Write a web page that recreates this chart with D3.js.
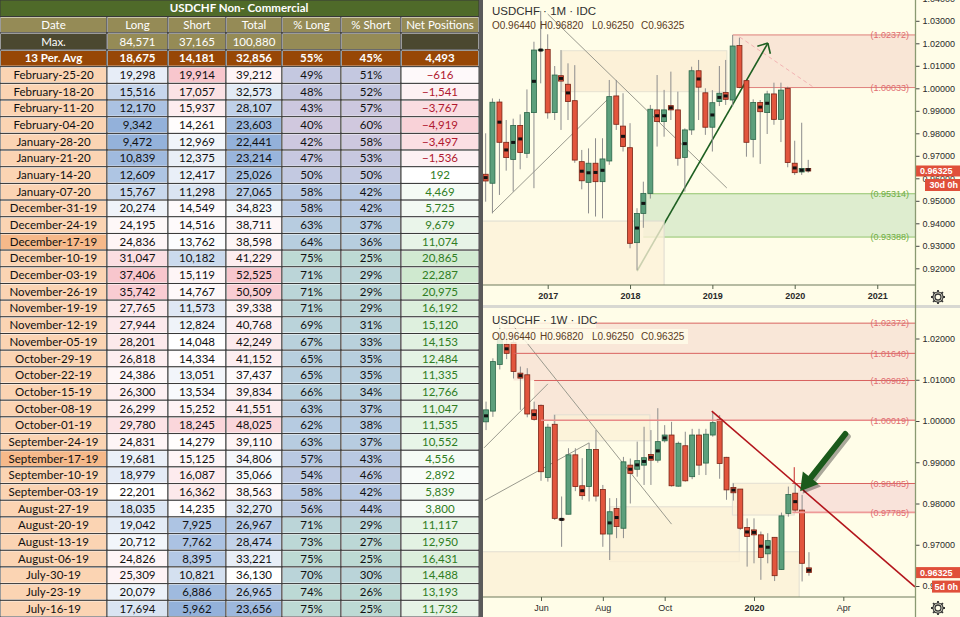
<!DOCTYPE html>
<html><head><meta charset="utf-8">
<script src="https://cdn.jsdelivr.net/npm/d3@7"></script>
<style>
html,body{margin:0;padding:0;background:#fff;}
svg{display:block;}
</style></head>
<body>
<svg id="c" width="960" height="617"></svg>
<script>
// ================= TABLE DATA =================
const tableTitle = "USDCHF Non- Commercial";
const columns = ["Date","Long","Short","Total","% Long","% Short","Net Positions"];
const maxLabel = "Max.";
const maxValues = [84571, 37165, 100880];
const avgLabel = "13 Per. Avg";
const avgValues = [18675, 14181, 32856, 55, 45, 4493];
const dates = ["February-25-20","February-18-20","February-11-20","February-04-20","January-28-20","January-21-20","January-14-20","January-07-20","December-31-19","December-24-19","December-17-19","December-10-19","December-03-19","November-26-19","November-19-19","November-12-19","November-05-19","October-29-19","October-22-19","October-15-19","October-08-19","October-01-19","September-24-19","September-17-19","September-10-19","September-03-19","August-27-19","August-20-19","August-13-19","August-06-19","July-30-19","July-23-19","July-16-19"];
const longs  = [19298,15516,12170,9342,9472,10839,12609,15767,20274,24195,24836,31047,37406,35742,27765,27944,28201,26818,24386,26300,26299,29780,24831,19681,18979,22201,18035,19042,20712,24826,25309,20079,17694];
const shorts = [19914,17057,15937,14261,12969,12375,12417,11298,14549,14516,13762,10182,15119,14767,11573,12824,14048,14334,13051,13534,15252,18245,14279,15125,16087,16362,14235,7925,7762,8395,10821,6886,5962];
const totals = [39212,32573,28107,23603,22441,23214,25026,27065,34823,38711,38598,41229,52525,50509,39338,40768,42249,41152,37437,39834,41551,48025,39110,34806,35066,38563,32270,26967,28474,33221,36130,26965,23656];
const pctLong  = [49,48,43,40,42,47,50,58,58,63,64,75,71,71,71,69,67,65,65,66,63,62,63,57,54,58,56,71,73,75,70,74,75];
const pctShort = [51,52,57,60,58,53,50,42,42,37,36,25,29,29,29,31,33,35,35,34,37,38,37,43,46,42,44,29,27,25,30,26,25];
const nets = [-616,-1541,-3767,-4919,-3497,-1536,192,4469,5725,9679,11074,20865,22287,20975,16192,15120,14153,12484,11335,12766,11047,11535,10552,4556,2892,5839,3800,11117,12950,16431,14488,13193,11732];
const highlightedDates = ["December-17-19","September-17-19"];

// ================= MONTHLY CHART DATA =================
const mTitle = "USDCHF \u00b7 1M \u00b7 IDC";
const mDates = ["2016-04","2016-05","2016-06","2016-07","2016-08","2016-09","2016-10","2016-11","2016-12","2017-01","2017-02","2017-03","2017-04","2017-05","2017-06","2017-07","2017-08","2017-09","2017-10","2017-11","2017-12","2018-01","2018-02","2018-03","2018-04","2018-05","2018-06","2018-07","2018-08","2018-09","2018-10","2018-11","2018-12","2019-01","2019-02","2019-03","2019-04","2019-05","2019-06","2019-07","2019-08","2019-09","2019-10","2019-11","2019-12","2020-01","2020-02","2020-03"];
const mOpen  = [0.9618,0.9578,0.9939,0.9760,0.9684,0.9835,0.9711,0.9892,1.0168,1.0173,0.9892,1.0056,1.0018,0.9945,0.9674,0.9582,0.9667,0.9585,0.9677,0.9966,0.9832,0.9736,0.9314,0.9444,0.9533,0.9904,0.9852,0.9923,0.9904,0.9693,0.9815,1.0078,0.9980,0.9827,0.9941,0.9981,0.9948,1.0190,1.0034,0.9773,0.9937,0.9892,0.9975,0.9862,1.0000,0.9667,0.9628,0.9644];
const mHigh  = [0.9800,0.9955,0.9953,0.9859,0.9865,0.9884,0.9995,1.0207,1.0344,1.0240,1.0099,1.0170,1.0111,1.0103,0.9726,0.9733,0.9778,0.9778,1.0037,1.0037,0.9978,0.9845,0.9467,0.9585,0.9926,1.0059,0.9993,1.0074,0.9985,0.9822,1.0096,1.0126,1.0000,0.9992,1.0099,1.0126,1.0237,1.0225,1.0034,0.9951,0.9948,0.9989,1.0025,1.0025,1.0007,0.9767,0.9847,0.9682];
const mLow   = [0.9496,0.9444,0.9526,0.9634,0.9541,0.9640,0.9690,0.9556,1.0022,0.9865,0.9859,0.9815,0.9859,0.9669,0.9551,0.9444,0.9430,0.9422,0.9660,0.9815,0.9719,0.9289,0.9193,0.9380,0.9510,0.9741,0.9785,0.9859,0.9656,0.9541,0.9793,0.9859,0.9793,0.9719,0.9921,0.9926,0.9920,1.0000,0.9696,0.9693,0.9664,0.9797,0.9838,0.9761,0.9649,0.9615,0.9615,0.9625];
const mClose = [0.9588,0.9938,0.9760,0.9692,0.9835,0.9715,0.9892,1.0170,1.0172,0.9891,1.0059,1.0032,0.9941,0.9681,0.9589,0.9667,0.9585,0.9686,0.9963,0.9840,0.9741,0.9311,0.9444,0.9533,0.9907,0.9852,0.9904,0.9904,0.9689,0.9815,1.0078,1.0005,0.9827,0.9936,0.9978,0.9951,1.0188,1.0004,0.9760,0.9937,0.9896,0.9975,0.9862,0.9992,0.9670,0.9625,0.9644,0.96325];
const mMark  = [1,0,1,1,1,1,0,1,1,0,0,1,1,0,1,1,1,1,0,0,1,0,1,1,0,1,1,1,0,1,0,1,0,1,1,1,0,0,0,0,1,1,0,0,0,1,1,1];
const mYTicks = [0.92,0.93,0.94,0.95,0.96,0.97,0.98,0.99,1.00,1.01,1.02,1.03,1.04];
const mXTickDates = ["2017-01-01","2018-01-01","2019-01-01","2020-01-01","2021-01-01"];
const mXTickLabels = ["2017","2018","2019","2020","2021"];
const mResistance = [1.02372, 1.00033];
const mSupport = [0.95314, 0.93388];
const mCountdown = "30d 0h";

// ================= WEEKLY CHART DATA =================
const wTitle = "USDCHF \u00b7 1W \u00b7 IDC";
const wDates = ["2019-04-08","2019-04-15","2019-04-22","2019-04-29","2019-05-06","2019-05-13","2019-05-20","2019-05-27","2019-06-03","2019-06-10","2019-06-17","2019-06-24","2019-07-01","2019-07-08","2019-07-15","2019-07-22","2019-07-29","2019-08-05","2019-08-12","2019-08-19","2019-08-26","2019-09-02","2019-09-09","2019-09-16","2019-09-23","2019-09-30","2019-10-07","2019-10-14","2019-10-21","2019-10-28","2019-11-04","2019-11-11","2019-11-18","2019-11-25","2019-12-02","2019-12-09","2019-12-16","2019-12-23","2019-12-30","2020-01-06","2020-01-13","2020-01-20","2020-01-27","2020-02-03","2020-02-10","2020-02-17","2020-02-24","2020-03-02"];
const wOpen  = [0.9998,1.0024,1.0137,1.0186,1.0190,1.0116,1.0112,1.0027,1.0038,0.9863,0.9992,0.9763,0.9774,0.9918,0.9843,0.9841,0.9931,0.9834,0.9726,0.9788,0.9740,0.9893,0.9883,0.9893,0.9919,0.9905,0.9952,0.9966,0.9842,0.9940,0.9865,0.9966,0.9898,0.9966,1.0004,0.9912,0.9839,0.9835,0.9742,0.9736,0.9724,0.9678,0.9718,0.9640,0.9776,0.9825,0.9784,0.9644];
const wHigh  = [1.0047,1.0152,1.0237,1.0215,1.0204,1.0132,1.0128,1.0047,1.0040,0.9993,1.0015,0.9817,0.9934,0.9934,0.9910,0.9947,0.9978,0.9845,0.9813,0.9813,0.9913,0.9909,0.9950,0.9986,0.9978,1.0031,0.9990,0.9998,0.9950,0.9974,0.9981,0.9981,0.9981,1.0022,1.0014,0.9913,0.9849,0.9835,0.9764,0.9764,0.9732,0.9728,0.9718,0.9778,0.9841,0.9849,0.9821,0.9682];
const wLow   = [0.9978,1.0010,1.0125,1.0150,1.0103,1.0027,1.0009,1.0001,0.9855,0.9853,0.9760,0.9695,0.9774,0.9830,0.9809,0.9805,0.9805,0.9695,0.9663,0.9716,0.9716,0.9800,0.9865,0.9845,0.9845,0.9899,0.9948,0.9841,0.9841,0.9853,0.9859,0.9869,0.9869,0.9962,0.9860,0.9809,0.9807,0.9736,0.9647,0.9655,0.9615,0.9655,0.9612,0.9639,0.9768,0.9778,0.9611,0.9625];
const wClose = [1.0027,1.0144,1.0200,1.0164,1.0120,1.0104,1.0017,1.0004,0.9877,0.9985,0.9764,0.9760,0.9918,0.9841,0.9819,0.9931,0.9818,0.9726,0.9780,0.9744,0.9901,0.9873,0.9904,0.9911,0.9905,0.9950,0.9966,0.9843,0.9946,0.9855,0.9966,0.9893,0.9968,0.9996,0.9897,0.9833,0.9826,0.9740,0.9720,0.9724,0.9669,0.9710,0.9625,0.9770,0.9822,0.9784,0.9655,0.96325];
const wMark  = [1,0,0,1,0,1,0,1,0,0,0,1,0,0,1,0,0,0,1,1,0,1,1,1,1,1,1,0,0,0,0,0,0,0,0,0,1,0,1,1,1,1,0,0,0,1,0,1];
const wYTicks = [0.96,0.97,0.98,0.99,1.00,1.01,1.02,1.03];
const wXTickDates = ["2019-06-03","2019-08-05","2019-10-07","2020-01-06","2020-04-06"];
const wXTickLabels = ["Jun","Aug","Oct","2020","Apr"];
const wResistance = [1.02372, 1.01640, 1.00982, 1.00019];
const wZone = [0.98485, 0.97785];
const wCountdown = "5d 0h";

const lastO = 0.96440, lastH = 0.96820, lastL = 0.96250, lastC = 0.96325;

// ================= DRAW =================
const svg = d3.select("#c");
const TF = "Lato, 'Liberation Sans', sans-serif";
const CF = "'Liberation Sans', Arial, sans-serif";
const fmt = d3.format(",");
const pm = d3.timeParse("%Y-%m");
const pd = d3.timeParse("%Y-%m-%d");

// ---------- table ----------
const gT = svg.append("g");
const colX = [0,107,168,226,282,341,401,479];
const rowH = (617-66.7)/dates.length;

function cell(x0,x1,ya,yb,fill,txt,color,weight){
  gT.append("rect").attr("x",x0).attr("y",ya).attr("width",x1-x0).attr("height",yb-ya)
    .attr("fill","#fff").attr("stroke","#383838").attr("stroke-width",1);
  gT.append("rect").attr("x",x0+1).attr("y",ya+1).attr("width",x1-x0-2).attr("height",yb-ya-2).attr("fill",fill);
  if(txt!==null && txt!==undefined){
    gT.append("text").attr("x",(x0+x1)/2).attr("y",(ya+yb)/2+4).attr("text-anchor","middle")
      .attr("font-family",TF).attr("font-size",11.5).attr("font-weight",weight||"normal").attr("fill",color).text(txt);
  }
}
gT.append("rect").attr("x",0).attr("y",0).attr("width",479).attr("height",16.5).attr("fill","#4f6a29").attr("stroke","#383838");
gT.append("text").attr("x",239).attr("y",12.3).attr("text-anchor","middle").attr("font-family",TF)
  .attr("font-size",11.5).attr("font-weight","bold").attr("fill","#fff").text(tableTitle);
columns.forEach((c,i)=>cell(colX[i],colX[i+1],16.5,33,"#958b56",c,"#fff","normal"));
cell(colX[0],colX[1],33,50,"#4b4830",maxLabel,"#fff");
maxValues.forEach((v,i)=>cell(colX[i+1],colX[i+2],33,50,"#958b56",fmt(v),"#fff"));
cell(colX[4],colX[5],33,50,"#958b56",null);
cell(colX[5],colX[6],33,50,"#958b56",null);
cell(colX[6],colX[7],33,50,"#4b4830",null);
cell(colX[0],colX[1],50,66.7,"#974706",avgLabel,"#fff","bold");
avgValues.forEach((v,i)=>{
  const t = (i===3||i===4) ? v+"%" : fmt(v);
  cell(colX[i+1],colX[i+2],50,66.7,"#974706",t,"#fff","bold");
});
const sc = (arr,lo,hi)=>d3.scaleLinear().domain([d3.min(arr),d3.median(arr),d3.max(arr)]).range([lo,"#ffffff",hi]);
const cLong = sc(longs,"#93b1da","#f8c6cd");
const cShort = sc(shorts,"#93b1da","#f8c6cd");
const cTotal = sc(totals,"#93b1da","#f8c6cd");
const cPct = d3.scaleLinear().domain([40,60,75]).range(["#d0c8de","#b5c9e3","#bddad4"]);
const cNet = d3.scaleLinear().domain([d3.min(nets),0,d3.max(nets)]).range(["#f9d2d8","#ffffff","#cfe9cf"]);
dates.forEach((d,i)=>{
  const ya = 66.7+i*rowH, yb = ya+rowH;
  cell(colX[0],colX[1],ya,yb, highlightedDates.includes(d)?"#f6b98a":"#fbd4b3", d, "#111");
  cell(colX[1],colX[2],ya,yb,cLong(longs[i]),fmt(longs[i]),"#111");
  cell(colX[2],colX[3],ya,yb,cShort(shorts[i]),fmt(shorts[i]),"#111");
  cell(colX[3],colX[4],ya,yb,cTotal(totals[i]),fmt(totals[i]),"#111");
  cell(colX[4],colX[5],ya,yb,cPct(pctLong[i]),pctLong[i]+"%","#111");
  cell(colX[5],colX[6],ya,yb,cPct(pctLong[i]),pctShort[i]+"%","#111");
  cell(colX[6],colX[7],ya,yb,cNet(nets[i]),fmt(nets[i]), nets[i]<0?"#b0182e":"#2f7d23");
});
svg.append("rect").attr("x",479).attr("y",0).attr("width",4).attr("height",617).attr("fill","#5a5a5a");

// ---------- chart helpers ----------
const BG = "#fffde8";
const PL = 483, PR = 915.5;
svg.append("rect").attr("x",483).attr("y",0).attr("width",477).attr("height",617).attr("fill",BG);
const defs = svg.append("defs");
defs.append("clipPath").attr("id","cp1").append("rect").attr("x",PL).attr("y",0).attr("width",PR-PL).attr("height",285);
defs.append("clipPath").attr("id","cp2").append("rect").attr("x",PL).attr("y",308).attr("width",PR-PL).attr("height",289);
defs.append("clipPath").attr("id","ca1").append("rect").attr("x",PR).attr("y",0).attr("width",45).attr("height",285);
defs.append("clipPath").attr("id","ca2").append("rect").attr("x",PR).attr("y",308).attr("width",45).attr("height",289);

function candles(g,x,y,ds,O,H,L,C,M,w){
  ds.forEach((d,i)=>{
    const cx = x(d), up = C[i]>=O[i];
    g.append("line").attr("x1",cx).attr("x2",cx).attr("y1",y(H[i])).attr("y2",y(L[i]))
      .attr("stroke","#8d8d8d").attr("stroke-width",1);
    const yt = y(Math.max(O[i],C[i])), yb = y(Math.min(O[i],C[i]));
    g.append("rect").attr("x",cx-w/2).attr("y",yt).attr("width",w).attr("height",Math.max(1,yb-yt))
      .attr("fill",up?"#5c9f7c":"#e2553d").attr("stroke",up?"#2b6649":"#7a2315").attr("stroke-width",0.8);
    if(M[i]){
      const ym = y((O[i]+C[i])/2);
      g.append("rect").attr("x",cx-2).attr("y",ym-1.5).attr("width",4).attr("height",3).attr("fill","#111");
    }
  });
}
function levelLine(g,x,y,d0,v,color,width){
  g.append("line").attr("x1",x(d0)).attr("x2",PR).attr("y1",y(v)).attr("y2",y(v)).attr("stroke",color).attr("stroke-width",width||1);
}
function levelLabel(g,y,v,color){
  g.append("text").attr("x",909).attr("y",y(v)+3.3).attr("text-anchor","end").attr("font-family",CF)
    .attr("font-size",9).attr("fill",color).text("("+v.toFixed(5)+")");
}
function zone(g,x,y,d0,v1,v2,fill,op){
  g.append("rect").attr("x",x(d0)).attr("y",y(v1)).attr("width",PR-x(d0)).attr("height",y(v2)-y(v1)).attr("fill",fill).attr("opacity",op||1);
}
function box(g,x,y,d0,d1,v1,v2,fill,op,stroke){
  g.append("rect").attr("x",x(d0)).attr("y",y(v1)).attr("width",x(d1)-x(d0)).attr("height",y(v2)-y(v1))
    .attr("fill",fill).attr("fill-opacity",op).attr("stroke",stroke||"none").attr("stroke-width",1);
}
function seg(g,x,y,d0,v0,d1,v1,color,width,dash){
  g.append("line").attr("x1",x(d0)).attr("y1",y(v0)).attr("x2",x(d1)).attr("y2",y(v1))
    .attr("stroke",color).attr("stroke-width",width||1).attr("stroke-dasharray",dash||null);
}
function gear(cx,cy){
  const g = svg.append("g").attr("transform",`translate(${cx},${cy})`);
  g.append("circle").attr("r",3).attr("fill","none").attr("stroke","#333").attr("stroke-width",1.3);
  g.append("circle").attr("r",5).attr("fill","none").attr("stroke","#333").attr("stroke-width",1.1);
  d3.range(8).forEach(k=>{const a=k*Math.PI/4;
    g.append("line").attr("x1",5*Math.cos(a)).attr("y1",5*Math.sin(a)).attr("x2",7*Math.cos(a)).attr("y2",7*Math.sin(a))
      .attr("stroke","#333").attr("stroke-width",1.8);});
}
function header(yT,yO,title){
  svg.append("text").attr("x",492).attr("y",yT).attr("font-family",CF).attr("font-size",11.5).attr("fill","#2f2f2f").text(title);
  const parts = [["O",lastO,492],["H",lastH,540],["L",lastL,592],["C",lastC,641]];
  parts.forEach(p=>svg.append("text").attr("x",p[2]).attr("y",yO).attr("font-family",CF).attr("font-size",10)
    .attr("fill","#5b3b1e").text(p[0]+p[1].toFixed(5)));
}
function priceTag(y,count,cw){
  const yc = y(lastC);
  svg.append("rect").attr("x",916).attr("y",yc-5.5).attr("width",44).attr("height",11).attr("fill","#e04f3a");
  svg.append("text").attr("x",920).attr("y",yc+3.3).attr("font-family",CF).attr("font-size",9).attr("font-weight","bold").attr("fill","#fff").text(lastC.toFixed(5));
  svg.append("rect").attr("x",960-cw).attr("y",yc+8).attr("width",cw).attr("height",12).attr("fill","#e04f3a");
  svg.append("text").attr("x",958).attr("y",yc+17.5).attr("text-anchor","end").attr("font-family",CF).attr("font-size",9).attr("font-weight","bold").attr("fill","#fff").text(count);
}
function yAxis(y,ticks,clip){
  const outer = svg.append("g").attr("clip-path",`url(#${clip})`);
  const g = outer.append("g").attr("transform",`translate(${PR},0)`)
    .call(d3.axisRight(y).tickValues(ticks).tickFormat(d3.format(".5f")).tickSize(4).tickPadding(3));
  g.select(".domain").remove();
  g.selectAll("line").attr("stroke","#444");
  g.selectAll("text").attr("font-family",CF).attr("font-size",9).attr("fill","#2a2a2a");
}
function xAxis(x,yPos,tickDates,labels,parser){
  const g = svg.append("g").attr("transform",`translate(0,${yPos})`)
    .call(d3.axisBottom(x).tickValues(tickDates.map(parser)).tickFormat((d,i)=>labels[i]).tickSize(4).tickPadding(4));
  g.select(".domain").remove();
  g.selectAll("line").attr("stroke","#55604a");
  g.selectAll("text").attr("font-family",CF).attr("font-size",9).attr("fill","#2a2a2a")
    .attr("font-weight",(d,i)=>/^\d{4}$/.test(labels[i])?"bold":"normal");
}

// ---------- monthly chart ----------
const x1 = d3.scaleTime().domain([new Date(2017,0,1), new Date(2020,0,1)]).range([547.7,794.7]);
const y1 = d3.scaleLinear().domain([0.92,1.03]).range([268.3,20.8]);
const g1 = svg.append("g").attr("clip-path","url(#cp1)");
box(g1,x1,y1,pd("2017-03-05"),pd("2019-03-06"),1.0167,0.9985,"#fbefd5",0.85,"#e6e2d2");
zone(g1,x1,y1,pm("2019-04"),mResistance[0],mResistance[1],"#f9e6d6");
zone(g1,x1,y1,pd("2018-03-01"),mSupport[0],mSupport[1],"#deedcf");
levelLine(g1,x1,y1,pm("2019-04"),mResistance[0],"#df7f7c");
levelLine(g1,x1,y1,pm("2019-05"),mResistance[1],"#df7f7c");
levelLine(g1,x1,y1,pd("2018-03-20"),mSupport[0],"#93c46e");
levelLine(g1,x1,y1,pd("2018-03-01"),mSupport[1],"#93c46e");
seg(g1,x1,y1,pd("2017-01-01"),1.0330,pd("2019-03-06"),0.9557,"#9a9a8e",1);
seg(g1,x1,y1,pd("2016-05-01"),0.9448,pd("2017-10-03"),0.9960,"#9a9a8e",1);
seg(g1,x1,y1,pd("2019-05-02"),1.0228,pd("2020-03-30"),1.0001,"#f2b3b3",1,"4,3");
seg(g1,x1,y1,pd("2018-02-01"),0.9188,pd("2019-09-04"),1.0201,"#1d5f21",1.6);
(function(){
  const ax=x1(pd("2018-02-01")), ay=y1(0.9188), bx=x1(pd("2019-09-04")), by=y1(1.0201);
  const a = Math.atan2(ay-by, ax-bx);
  [0.75,-0.75].forEach(t=>g1.append("line").attr("x1",bx).attr("y1",by)
    .attr("x2",bx+11*Math.cos(a+t)).attr("y2",by+11*Math.sin(a+t)).attr("stroke","#1d5f21").attr("stroke-width",1.6));
})();
box(g1,x1,y1,pd("2016-01-01"),pd("2018-06-01"),0.9410,0.90,"#fcf1d8",0.78,"#dddad0");
candles(g1,x1,y1,mDates.map(pm),mOpen,mHigh,mLow,mClose,mMark,5);
levelLabel(g1,y1,mResistance[0],"#df6b70");
levelLabel(g1,y1,mResistance[1],"#df6b70");
levelLabel(g1,y1,mSupport[0],"#6fae44");
levelLabel(g1,y1,mSupport[1],"#6fae44");
header(14.5,29,mTitle);
svg.append("line").attr("x1",PL).attr("x2",PR).attr("y1",285).attr("y2",285).attr("stroke","#6f7a5c").attr("stroke-width",1.2);
xAxis(x1,285,mXTickDates,mXTickLabels,pd);
yAxis(y1,mYTicks,"ca1");
priceTag(y1,mCountdown,35);
gear(938,297);
svg.append("rect").attr("x",483).attr("y",305).attr("width",477).attr("height",3).attr("fill","#d8d8d2");

// ---------- weekly chart ----------
const x2 = d3.scaleTime().domain([new Date(2019,5,3), new Date(2020,0,6)]).range([541,754]);
const y2 = d3.scaleLinear().domain([0.96,1.02]).range([586,338.5]);
const g2 = svg.append("g").attr("clip-path","url(#cp2)");
zone(g2,x2,y2,pd("2019-04-26"),wResistance[0],wResistance[1],"#f9e7d8");
zone(g2,x2,y2,pd("2019-05-06"),wResistance[1],wResistance[2],"#f9e7d8");
zone(g2,x2,y2,pd("2019-05-27"),wResistance[2],wResistance[3],"#f9e7d8");
zone(g2,x2,y2,pd("2020-02-20"),wZone[0],wZone[1],"#f9e3da");
box(g2,x2,y2,pd("2019-06-16"),pd("2019-09-22"),1.0015,0.9952,"#fbf0d6",0.8,"#e2ded2");
box(g2,x2,y2,pd("2019-08-12"),pd("2019-12-22"),0.9792,0.9659,"#fbf0d6",0.8,"#e2ded2");
box(g2,x2,y2,pd("2019-12-15"),pd("2020-02-16"),0.9849,0.9772,"#fbf0d6",0.8,"#e2ded2");
box(g2,x2,y2,pd("2019-03-01"),pd("2020-02-21"),0.9683,0.950,"#fbf0d6",0.8,"#e2ded2");
seg(g2,x2,y2,pd("2019-05-06"),1.0230,pd("2019-10-14"),0.9750,"#9a9a8e",1);
seg(g2,x2,y2,pd("2019-04-06"),0.9935,pd("2019-06-10"),1.0090,"#9a9a8e",1);
seg(g2,x2,y2,pd("2019-04-07"),0.9808,pd("2019-07-22"),0.9947,"#9a9a8e",1);
candles(g2,x2,y2,wDates.map(pd),wOpen,wHigh,wLow,wClose,wMark,5);
levelLine(g2,x2,y2,pd("2019-04-26"),wResistance[0],"#d8625f");
levelLine(g2,x2,y2,pd("2019-05-06"),wResistance[1],"#d8625f");
levelLine(g2,x2,y2,pd("2019-05-27"),wResistance[2],"#d8625f");
levelLine(g2,x2,y2,pd("2019-06-03"),wResistance[3],"#e88a88",1.6);
levelLine(g2,x2,y2,pd("2020-02-14"),wZone[0],"#d8625f");
levelLine(g2,x2,y2,pd("2020-02-14"),wZone[1],"#ee9a98",1.6);
seg(g2,x2,y2,pd("2019-11-24"),1.0024,pd("2020-06-18"),0.9598,"#b3151c",1.6);
seg(g2,x2,y2,pd("2020-02-16"),0.9888,pd("2020-02-16"),0.9851,"#c62828",1);
wResistance.forEach(v=>levelLabel(g2,y2,v,"#df6b70"));
wZone.forEach(v=>levelLabel(g2,y2,v,"#df6b70"));
(function(){
  const sx=x2(pd("2020-04-08")), sy=y2(0.99685), tx=x2(pd("2020-02-22")), ty=y2(0.9830);
  const dx=tx-sx, dy=ty-sy, L=Math.hypot(dx,dy), ux=dx/L, uy=dy/L, px=-uy, py=ux;
  const bx=tx-17*ux, by=ty-17*uy;
  const head = [[tx,ty],[bx+10*px,by+10*py],[bx-10*px,by-10*py]];
  [[2.5,"#00000055"],[0,"#1b5a1b"]].forEach(([o,c])=>{
    g2.append("line").attr("x1",sx+o).attr("y1",sy+o).attr("x2",bx+o).attr("y2",by+o)
      .attr("stroke",c).attr("stroke-width",6).attr("stroke-linecap","round");
    g2.append("polygon").attr("points",head.map(p=>[p[0]+o,p[1]+o].join(",")).join(" ")).attr("fill",c);
  });
})();
svg.append("rect").attr("x",486).attr("y",311).attr("width",110).attr("height",17).attr("fill","#fffce9").attr("opacity",0.85);
svg.append("rect").attr("x",488).attr("y",329).attr("width",200).attr("height",15).attr("fill","#fffce9").attr("opacity",0.85);
header(324,339.5,wTitle);
svg.append("line").attr("x1",PL).attr("x2",PR).attr("y1",597).attr("y2",597).attr("stroke","#6f7a5c").attr("stroke-width",1.2);
xAxis(x2,597,wXTickDates,wXTickLabels,pd);
yAxis(y2,wYTicks,"ca2");
priceTag(y2,wCountdown,28);
gear(938,608);
svg.append("line").attr("x1",PR).attr("x2",PR).attr("y1",0).attr("y2",617).attr("stroke","#8a9a72").attr("stroke-width",1.3);
</script>
</body></html>
